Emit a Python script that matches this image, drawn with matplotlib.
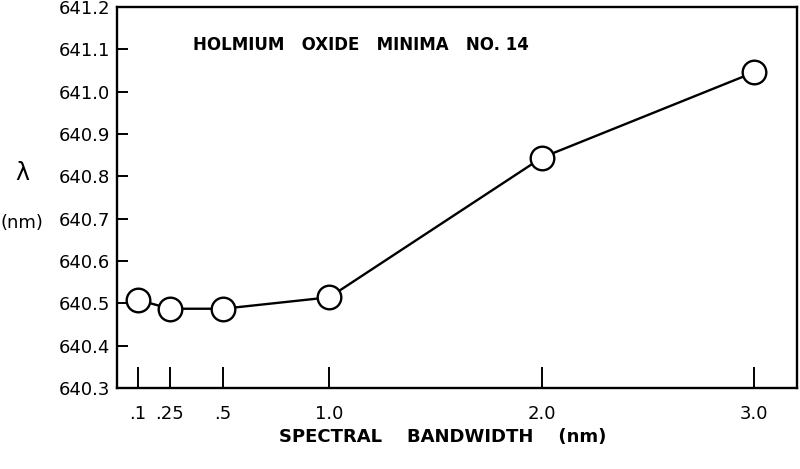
import matplotlib
matplotlib.use("Agg")
import matplotlib.pyplot as plt

# Data
bandwidth = [0.1, 0.25, 0.5, 1.0, 2.0, 3.0]
wavelength = [640.508, 640.487, 640.487, 640.514, 640.844, 641.046]
xtick_vals = [0.1, 0.25, 0.5, 1.0, 2.0, 3.0]
xtick_labels = [".1", ".25", ".5", "1.0", "2.0", "3.0"]
ytick_vals = [640.3, 640.4, 640.5, 640.6, 640.7, 640.8, 640.9, 641.0, 641.1, 641.2]
ytick_labels = ["640.3", "640.4", "640.5", "640.6", "640.7", "640.8", "640.9", "641.0", "641.1", "641.2"]

plt.rcParams['font.family'] = ['DejaVu Sans']

fig = plt.figure(figsize=(8, 4.69), dpi=100)
ax = fig.add_axes([0.146, 0.173, 0.85, 0.812])

ax.plot(bandwidth, wavelength, color='black', linewidth=1.7,
        marker='o', markersize=17, markerfacecolor='white',
        markeredgecolor='black', markeredgewidth=1.7)

ax.set_xlim(0, 3.2)
ax.set_ylim(640.3, 641.2)
ax.set_xticks(xtick_vals)
ax.set_xticklabels(xtick_labels)
ax.set_yticks(ytick_vals)
ax.set_yticklabels(ytick_labels)

ax.tick_params(axis='x', direction='in', length=15, width=1.4, pad=12, labelsize=13)
ax.tick_params(axis='y', direction='in', length=8, width=1.4, pad=5, labelsize=13)

for s in ax.spines.values():
    s.set_linewidth(1.7)

ax.text(0.357, 641.11, "HOLMIUM   OXIDE   MINIMA   NO. 14", fontsize=12,
        ha='left', va='center', fontweight='bold')

fig.text(443 / 800, 1 - 437 / 469, "SPECTRAL    BANDWIDTH    (nm)", fontsize=13,
         ha='center', va='center', fontweight='bold')
fig.text(22 / 800, 1 - 173 / 469, "λ", fontsize=17, ha='center', va='center')
fig.text(22 / 800, 1 - 223 / 469, "(nm)", fontsize=13, ha='center', va='center')

fig.savefig("out.png", dpi=100)
